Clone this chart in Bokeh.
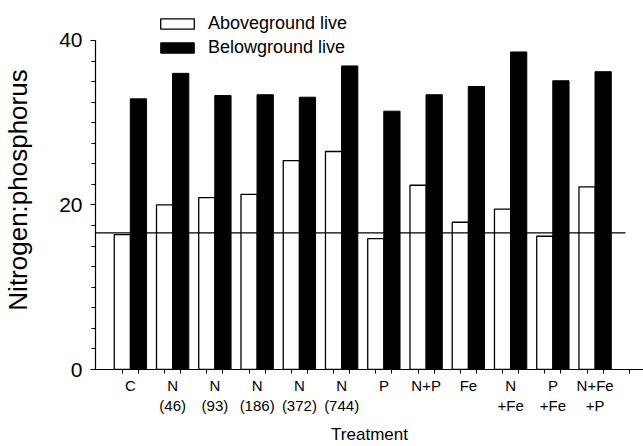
from bokeh.plotting import figure
from bokeh.models import FixedTicker, Range1d, Legend, LegendItem, ColumnDataSource
from bokeh.embed import file_html
from bokeh.resources import INLINE

# ---- data ----
treatments = ["C", "N\n(46)", "N\n(93)", "N\n(186)", "N\n(372)", "N\n(744)",
              "P", "N+P", "Fe", "N\n+Fe", "P\n+Fe", "N+Fe\n+P"]
aboveground = [16.4, 20.0, 20.9, 21.3, 25.4, 26.5, 15.9, 22.4, 17.9, 19.5, 16.2, 22.2]
belowground = [32.9, 36.0, 33.3, 33.4, 33.1, 36.9, 31.4, 33.4, 34.4, 38.6, 35.1, 36.2]
series_names = ["Aboveground live", "Belowground live"]
y_tick_values = [0, 20, 40]
reference_ratio = 16.6

# ---- layout constants ----
FONT = "Liberation Sans"
OFFSET = 0.19
BAR_W = 0.385
X_START, X_END = -0.826, 12.145
Y_AXIS_MAX = 40
Y_VIEW_MAX = 43.64
LINE_END = 11.72

n = len(treatments)
idx = list(range(n))
src_a = ColumnDataSource(dict(x=[i - OFFSET for i in idx], top=aboveground))
src_b = ColumnDataSource(dict(x=[i + OFFSET for i in idx], top=belowground))

p = figure(width=643, height=446, output_backend="svg", toolbar_location=None,
           x_range=Range1d(X_START, X_END), y_range=Range1d(0, Y_VIEW_MAX),
           min_border_left=93, min_border_right=0, min_border_top=10, min_border_bottom=76)
p.outline_line_color = None
p.xgrid.visible = False
p.ygrid.visible = False
p.background_fill_color = "white"
p.border_fill_color = "white"

r_a = p.vbar(x="x", top="top", bottom=0, width=BAR_W, source=src_a,
             fill_color="white", line_color="black", line_width=1.3)
r_b = p.vbar(x="x", top="top", bottom=0, width=BAR_W, source=src_b,
             fill_color="black", line_color="black", line_width=1)

p.segment(x0=[X_START], y0=[reference_ratio], x1=[LINE_END], y1=[reference_ratio],
          line_color="black", line_width=1.2)

# x axis
minor_x = [i + s for i in range(n + 1) for s in (-OFFSET, OFFSET)]
minor_x = [m for m in minor_x if X_START < m < X_END]
xa = p.xaxis[0]
xa.ticker = FixedTicker(ticks=idx, minor_ticks=minor_x)
xa.major_label_overrides = {i: t for i, t in zip(idx, treatments)}
xa.major_tick_out = 0
xa.major_tick_in = 0
xa.minor_tick_out = 4
xa.minor_tick_in = 0
xa.axis_line_color = "black"
xa.axis_line_width = 1.2
xa.major_label_text_font = FONT
xa.major_label_text_font_size = "15px"
xa.major_label_text_color = "black"
xa.major_label_standoff = 3
xa.axis_label = "Treatment"
xa.axis_label_text_font = FONT
xa.axis_label_text_font_size = "17px"
xa.axis_label_text_font_style = "normal"
xa.axis_label_text_color = "black"
xa.axis_label_standoff = 8

# y axis
ya = p.yaxis[0]
ya.ticker = FixedTicker(ticks=y_tick_values, minor_ticks=[k * 2.5 for k in range(17)])
ya.bounds = (0, Y_AXIS_MAX)
ya.major_tick_out = 5
ya.major_tick_in = 0
ya.minor_tick_out = 4
ya.minor_tick_in = 0
ya.axis_line_color = "black"
ya.axis_line_width = 1.2
ya.major_label_text_font = FONT
ya.major_label_text_font_size = "21px"
ya.major_label_text_color = "black"
ya.major_label_standoff = 8
ya.axis_label = "Nitrogen:phosphorus"
ya.axis_label_text_font = FONT
ya.axis_label_text_font_size = "26px"
ya.axis_label_text_font_style = "normal"
ya.axis_label_text_color = "black"
ya.axis_label_standoff = 23

legend = Legend(items=[LegendItem(label=series_names[0], renderers=[r_a]),
                       LegendItem(label=series_names[1], renderers=[r_b])],
                location=(61, 311))
legend.glyph_width = 42
legend.glyph_height = 13
legend.label_height = 20
legend.spacing = 3
legend.padding = 0
legend.margin = 0
legend.label_standoff = 10
legend.border_line_color = None
legend.background_fill_alpha = 0
legend.label_text_font = FONT
legend.label_text_font_size = "18px"
legend.label_text_color = "black"
p.add_layout(legend, "center")

open("out.html", "w").write(file_html(p, INLINE))
